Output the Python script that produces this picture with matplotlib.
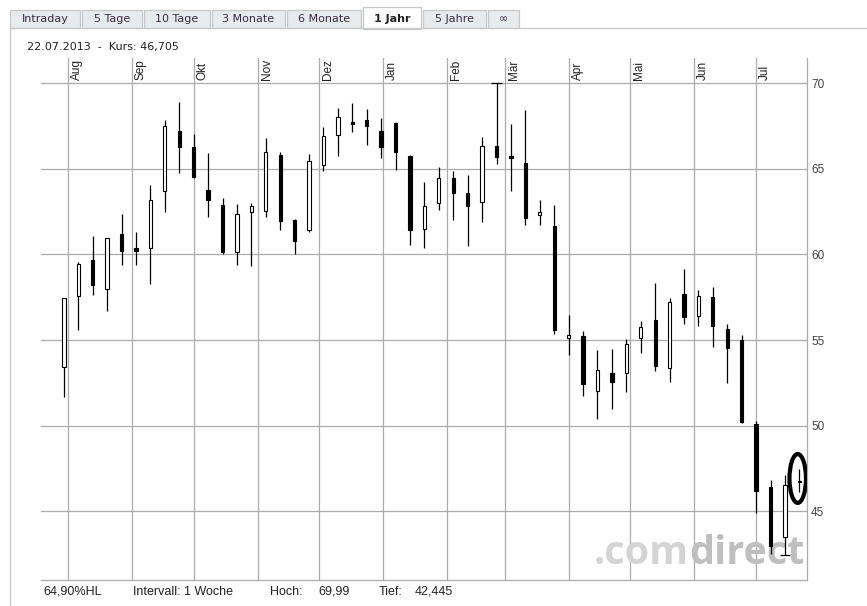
import numpy as np
import pandas as pd
import matplotlib
matplotlib.use("Agg")
import matplotlib.pyplot as plt
import matplotlib.dates as mdates
from matplotlib.patches import Rectangle, Ellipse
from matplotlib.lines import Line2D

# ============================================================================
# 데이터 — 주봉 (1 Jahr, Intervall: 1 Woche)
# ============================================================================
week_start = "2012-07-30"
n_weeks = 52

opens = [53.45, 57.6, 59.7, 58.0, 61.2, 60.35, 60.4, 63.7, 67.2, 66.25,
         63.75, 62.9, 60.15, 62.45, 62.55, 65.8, 62.0, 61.45, 65.2, 66.95,
         67.75, 67.85, 67.2, 67.65, 65.75, 61.5, 63.0, 64.45, 63.6, 63.05,
         66.35, 65.75, 65.35, 62.3, 61.65, 55.15, 55.25, 52.0, 53.1, 53.05,
         55.1, 56.15, 53.35, 57.7, 56.4, 57.5, 55.65, 55.0, 50.1, 46.45,
         43.5, 46.7]
highs = [57.45, 59.55, 61.05, 60.95, 62.35, 61.3, 64.05, 67.85, 68.9, 67.0,
         65.9, 63.3, 62.95, 63.0, 66.8, 65.95, 62.05, 65.85, 67.45, 68.55,
         68.85, 68.5, 67.95, 67.75, 65.8, 64.2, 65.1, 64.85, 64.65, 66.85,
         69.99, 67.6, 68.4, 63.15, 62.9, 56.45, 55.55, 54.4, 54.5, 55.05,
         56.1, 58.35, 57.45, 59.15, 57.9, 58.1, 55.95, 55.3, 50.25, 46.85,
         47.15, 47.5]
lows = [51.65, 55.6, 57.65, 56.7, 59.4, 59.4, 58.3, 62.5, 64.75, 64.45,
        62.2, 60.05, 59.4, 59.3, 62.2, 61.4, 60.0, 61.3, 64.85, 65.75,
        67.15, 66.4, 65.6, 64.9, 60.55, 60.4, 62.6, 62.0, 60.5, 61.9,
        65.25, 63.7, 61.7, 61.7, 55.35, 54.15, 51.75, 50.4, 50.95, 51.95,
        54.25, 53.2, 52.55, 55.95, 55.85, 54.6, 52.5, 50.15, 44.9, 42.5,
        42.445, 46.15]
closes = [57.45, 59.45, 58.2, 60.95, 60.2, 60.2, 63.15, 67.5, 66.25, 64.5,
          63.2, 60.15, 62.35, 62.8, 65.95, 61.95, 60.8, 65.45, 66.9, 68.0,
          67.6, 67.5, 66.25, 66.0, 61.45, 62.85, 64.45, 63.6, 62.8, 66.35,
          65.7, 65.65, 62.15, 62.45, 55.6, 55.3, 52.45, 53.25, 52.55, 54.75,
          55.75, 53.5, 57.2, 56.35, 57.55, 55.85, 54.55, 50.2, 46.2, 43.0,
          46.55, 46.705]

month_starts = pd.date_range("2012-08-01", "2013-07-01", freq="MS")
month_labels = ["Aug", "Sep", "Okt", "Nov", "Dez", "Jan", "Feb", "Mär",
                "Apr", "Mai", "Jun", "Jul"]
y_ticks = [45, 50, 55, 60, 65, 70]

tabs = ["Intraday", "5 Tage", "10 Tage", "3 Monate", "6 Monate", "1 Jahr", "5 Jahre", "∞"]
tab_x = [10, 82, 144, 212, 287, 363, 423, 488, 521]   # 탭 경계 [px]
active_tab = "1 Jahr"

header = "22.07.2013  -  Kurs: 46,705"
footer = [("64,90%HL", 43), ("Intervall: 1 Woche", 133), ("Hoch:", 270), ("69,99", 318),
          ("Tief:", 379), ("42,445", 415)]

# ============================================================================
# 그래프
# ============================================================================
W, H = 867, 606
fig = plt.figure(figsize=(W / 100, H / 100), dpi=100)
fig.patch.set_facecolor("white")

def fx(x):
    return x / W

def fy(y):
    return 1 - y / H

GRID = "#acacac"
ax = fig.add_axes([fx(41), fy(580), (807 - 41) / W, (580 - 58) / H])

dates = pd.date_range(week_start, periods=n_weeks, freq="7D")
x = mdates.date2num(dates)
o, h, l, c = map(np.array, (opens, highs, lows, closes))

# 심지
ax.vlines(x, l, h, color="black", linewidth=0.9, zorder=3)

# 몸통: 양봉 흰색, 음봉 검정
up = c >= o
bottom = np.minimum(o, c)
height = np.maximum(np.abs(c - o), 0.1)
ax.bar(x[up], height[up], bottom=bottom[up], width=1.6, facecolor="white",
       edgecolor="black", linewidth=0.8, zorder=4)
ax.bar(x[~up], height[~up], bottom=bottom[~up], width=1.6, facecolor="black",
       edgecolor="black", linewidth=0.8, zorder=4)

# 고가 / 저가 표시
i_hi, i_lo = int(np.argmax(h)), int(np.argmin(l))
ax.hlines(h[i_hi], x[i_hi] - 2.6, x[i_hi] + 2.6, color="black", linewidth=0.9, zorder=4)
ax.hlines(l[i_lo], x[i_lo] - 2.6, x[i_lo] + 2.6, color="black", linewidth=0.9, zorder=4)

# 마지막 봉 동그라미
ax.add_patch(Ellipse((x[-1] - 0.8, (h[-1] + l[-1]) / 2 + 0.1), 8.0, 2.85, fill=False,
                     edgecolor="black", linewidth=3.0, zorder=5))

aug1 = mdates.date2num(month_starts[0])
ax.set_xlim(aug1 - 13.1, aug1 + 358.7)
ax.set_ylim(41.0, 71.46)

ax.set_xticks(mdates.date2num(month_starts))
ax.set_xticklabels([])
ax.set_yticks(y_ticks)
ax.yaxis.tick_right()
ax.tick_params(axis="both", length=0)
ax.tick_params(axis="y", labelsize=8.5, labelcolor="#444444", pad=3)
for lab in ax.get_yticklabels():
    lab.set_family("Liberation Sans")
ax.grid(True, color=GRID, linewidth=0.9)
ax.set_axisbelow(True)

for s in ("left", "top"):
    ax.spines[s].set_visible(False)
for s in ("right", "bottom"):
    ax.spines[s].set_color(GRID)
    ax.spines[s].set_linewidth(0.9)

for d, lbl in zip(mdates.date2num(month_starts), month_labels):
    ax.annotate(lbl, xy=(d, 1.0), xycoords=("data", "axes fraction"),
                xytext=(3, -22), textcoords="offset pixels", rotation=90,
                ha="left", va="bottom", fontsize=8.5, color="#222222",
                family="Liberation Sans")

# 워터마크 — 봉 뒤에 깔리도록 축 안에 그림
ax.text(fx(689), fy(564), ".com", transform=fig.transFigure, ha="right", va="baseline",
        fontsize=28.5, fontweight="bold", family="Open Sans", color="#d4d4d4", zorder=1)
ax.text(fx(689), fy(564), "direct", transform=fig.transFigure, ha="left", va="baseline",
        fontsize=28.5, fontweight="bold", family="Open Sans", color="#bfbfbf", zorder=1)

# ============================================================================
# 탭 / 테두리
# ============================================================================
fig.add_artist(Line2D([fx(10), fx(867)], [fy(28), fy(28)], color="#c8c8c8", linewidth=0.9))
fig.add_artist(Line2D([fx(10), fx(10)], [fy(28), fy(606)], color="#c8c8c8", linewidth=0.9))

for i, name in enumerate(tabs):
    x0, x1 = tab_x[i], tab_x[i + 1] - 2
    active = name == active_tab
    top = 6 if active else 10
    fig.add_artist(Rectangle((fx(x0), fy(28.5 if active else 28)), fx(x1 - x0), (28 - top) / H,
                             facecolor="white" if active else "#e8ebed",
                             edgecolor="#c8c8c8", linewidth=0.9))
    fig.text(fx((x0 + x1) / 2), fy(19), name, ha="center", va="center",
             fontsize=8, color="#222222" if active else "#3a2a4a",
             fontweight="bold" if active else "normal", family="DejaVu Sans")

fig.text(fx(27), fy(47), header, ha="left", va="center", fontsize=8,
         color="#222222", family="DejaVu Sans")

for txt, xp in footer:
    fig.text(fx(xp), fy(592), txt, ha="left", va="center", fontsize=9,
             color="#222222", family="Liberation Sans")

fig.savefig("out.png", dpi=100)
